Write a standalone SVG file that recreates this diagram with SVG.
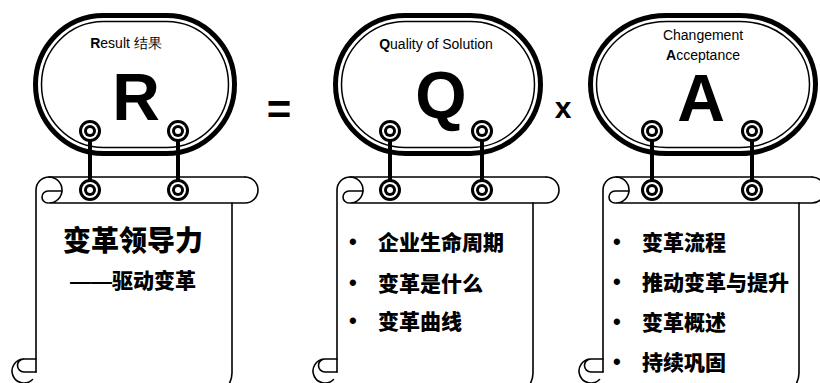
<svg xmlns="http://www.w3.org/2000/svg" xmlns:xlink="http://www.w3.org/1999/xlink" width="820" height="383" viewBox="0 0 820 383">
<style>
.oo{fill:#fff;stroke:#000;stroke-width:5}
.oi{fill:none;stroke:#000;stroke-width:1.5}
.sc{fill:none;stroke:#000;stroke-width:1.6;stroke-linecap:round;stroke-linejoin:round}
.bar{stroke:#000;stroke-width:4}
.lat{font-family:"Liberation Sans",Arial,sans-serif;fill:#000}
.big{font-family:"Liberation Sans",Arial,sans-serif;font-weight:bold;font-size:66px;text-anchor:middle;fill:#000}
.cjk{font-family:"Liberation Sans","Noto Sans CJK SC",sans-serif;font-weight:900;fill:#000}
.bul{font-family:"Liberation Sans",Arial,sans-serif;font-weight:bold;font-size:22px;fill:#000}
</style>
<defs>
<g id="ring">
<circle r="11" fill="#000"/>
<circle r="8" fill="#fff"/>
<circle r="6" fill="#000"/>
<circle r="3" fill="#fff"/>
</g>
<g id="scroll">
<path class="sc" d="M209 0 L13 0 A13 13 0 0 0 0 13 L0 195"/>
<path class="sc" d="M13 0 A13 13 0 0 1 13 26 L209 26 M209 0 A13 13 0 0 1 209 26"/>
<path class="sc" d="M26 14 L12 14 A6 6 0 0 0 12 26"/>
<path class="sc" d="M196 26 L196 196 Q196 204 190 212"/>
<path class="sc" d="M0 182 L-12 182 A12 12 0 1 0 -3.5 202.5 M0 195 L-12 195 A6.5 6.5 0 0 1 -12 182"/>
</g>
</defs>
<rect width="820" height="383" fill="#fff"/>

<g id="scroll-r">
<use xlink:href="#scroll" x="36" y="177"/>
<text class="cjk" x="63" y="251" font-size="28">变革领导力</text>
<text class="cjk" x="70" y="288" font-size="21">——驱动变革</text>
</g>
<g id="scroll-q">
<use xlink:href="#scroll" x="337" y="177"/>
<g class="cjk" font-size="21">
<text class="bul" x="349" y="249">•</text><text x="378" y="250">企业生命周期</text>
<text class="bul" x="349" y="290">•</text><text x="378" y="291">变革是什么</text>
<text class="bul" x="349" y="328">•</text><text x="378" y="329">变革曲线</text>
</g>
</g>
<g id="scroll-a">
<use xlink:href="#scroll" x="603" y="177"/>
<g class="cjk" font-size="21">
<text class="bul" x="613" y="249">•</text><text x="642" y="250">变革流程</text>
<text class="bul" x="613" y="289">•</text><text x="642" y="290">推动变革与提升</text>
<text class="bul" x="613" y="329">•</text><text x="642" y="330">变革概述</text>
<text class="bul" x="613" y="369">•</text><text x="642" y="370">持续巩固</text>
</g>
</g>

<g id="oval-r">
<rect class="oo" x="35.5" y="15.5" width="199" height="138" rx="68" ry="69"/>
<rect class="oi" x="41.5" y="21.5" width="187" height="126" rx="62" ry="63"/>
<text class="lat" x="126" y="48" font-size="14" text-anchor="middle"><tspan font-weight="bold">R</tspan>esult 结果</text>
<text class="big" x="136" y="120">R</text>
</g>
<g id="oval-q">
<rect class="oo" x="335.5" y="15.5" width="205" height="138" rx="70" ry="69"/>
<rect class="oi" x="341.5" y="21.5" width="193" height="126" rx="64" ry="63"/>
<text class="lat" x="436" y="49" font-size="14" text-anchor="middle"><tspan font-weight="bold">Q</tspan>uality of Solution</text>
<text class="big" x="441" y="118">Q</text>
</g>
<g id="oval-a">
<rect class="oo" x="590.5" y="15.5" width="225" height="138" rx="76" ry="69"/>
<rect class="oi" x="596.5" y="21.5" width="213" height="126" rx="70" ry="63"/>
<text class="lat" x="703" y="40" font-size="14" text-anchor="middle">Changement</text>
<text class="lat" x="703" y="60" font-size="14" text-anchor="middle"><tspan font-weight="bold">A</tspan>cceptance</text>
<text class="big" x="701" y="121">A</text>
</g>

<g id="operators" class="lat" font-weight="bold" text-anchor="middle">
<text x="279" y="124" font-size="42">=</text>
<text x="563" y="118" font-size="30">x</text>
</g>

<g id="connectors">
<line class="bar" x1="90" y1="131" x2="90" y2="190"/>
<line class="bar" x1="178" y1="131" x2="178" y2="190"/>
<line class="bar" x1="390" y1="131" x2="390" y2="190"/>
<line class="bar" x1="482" y1="131" x2="482" y2="190"/>
<line class="bar" x1="652" y1="131" x2="652" y2="190"/>
<line class="bar" x1="752" y1="131" x2="752" y2="190"/>
<use xlink:href="#ring" x="90" y="131"/>
<use xlink:href="#ring" x="178" y="131"/>
<use xlink:href="#ring" x="390" y="131"/>
<use xlink:href="#ring" x="482" y="131"/>
<use xlink:href="#ring" x="652" y="131"/>
<use xlink:href="#ring" x="752" y="131"/>
<use xlink:href="#ring" x="90" y="190"/>
<use xlink:href="#ring" x="178" y="190"/>
<use xlink:href="#ring" x="390" y="190"/>
<use xlink:href="#ring" x="482" y="190"/>
<use xlink:href="#ring" x="652" y="190"/>
<use xlink:href="#ring" x="752" y="190"/>
</g>
</svg>
